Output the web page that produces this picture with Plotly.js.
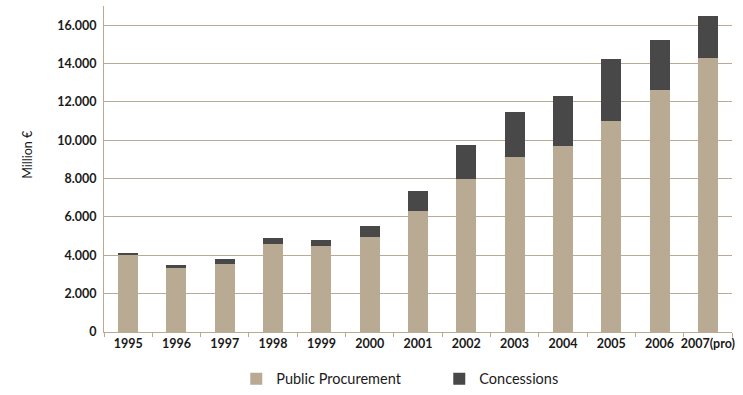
<!DOCTYPE html>
<html><head><meta charset="utf-8">
<script src="https://cdn.plot.ly/plotly-3.0.1.min.js"></script>
<style>html,body{margin:0;padding:0;background:#fff}#chart{width:743px;height:395px}</style>
</head><body><div id="chart"></div>
<script>
const years = ['1995','1996','1997','1998','1999','2000','2001','2002','2003','2004','2005','2006','2007(pro)'];
const publicProcurement = [4040, 3360, 3560, 4600, 4500, 4960, 6320, 7980, 9130, 9720, 11000, 12620, 14290];
const concessions = [90, 150, 260, 310, 310, 580, 1040, 1780, 2340, 2600, 3230, 2600, 2180];
const yTicks = [0, 2000, 4000, 6000, 8000, 10000, 12000, 14000, 16000];

const tan = '#b9aa94';
const dark = '#484848';
const traces = [
  {type:'bar', name:'Public Procurement', x:years, y:publicProcurement, marker:{color:tan}},
  {type:'bar', name:'Concessions', x:years, y:concessions, marker:{color:dark}}
];
const layout = {
  width:743, height:395,
  margin:{l:104, r:11, t:6, b:63},
  barmode:'stack', bargap:0.585,
  separators:',.',
  paper_bgcolor:'#fff', plot_bgcolor:'#fff',
  font:{family:'Lato, Noto Sans, sans-serif', color:'#1a1a1a'},
  showlegend:true,
  legend:{orientation:'h', traceorder:'normal', xref:'container', yref:'container',
          x:0.318, xanchor:'left', y:0.041, yanchor:'middle',
          font:{size:14.5, family:'Lato, sans-serif', color:'#1a1a1a'}, entrywidth:158, itemwidth:30},
  xaxis:{type:'category', showgrid:false, showline:true, linecolor:tan, linewidth:1,
         ticks:'outside', tickson:'boundaries', ticklen:4, tickcolor:tan, tickangle:0, automargin:false,
         tickfont:{size:12.5, weight:'bold', color:'#1a1a1a'}, fixedrange:true},
  yaxis:{range:[0,17000], tickvals:yTicks, tickformat:',d', showgrid:true, gridcolor:tan, gridwidth:1,
         showline:true, linecolor:tan, linewidth:1, zeroline:false, ticks:'', automargin:false,
         ticklabelstandoff:4,
         tickfont:{size:12.5, weight:'bold', color:'#1a1a1a'}},
  annotations:[{text:'Million €', xref:'paper', yref:'paper', x:-0.122, y:0.545, textangle:-90,
                showarrow:false, xanchor:'center', yanchor:'middle', font:{size:12.5, color:'#1a1a1a'}}]
};
Plotly.newPlot('chart', traces, layout, {displayModeBar:false, staticPlot:true});
</script></body></html>
